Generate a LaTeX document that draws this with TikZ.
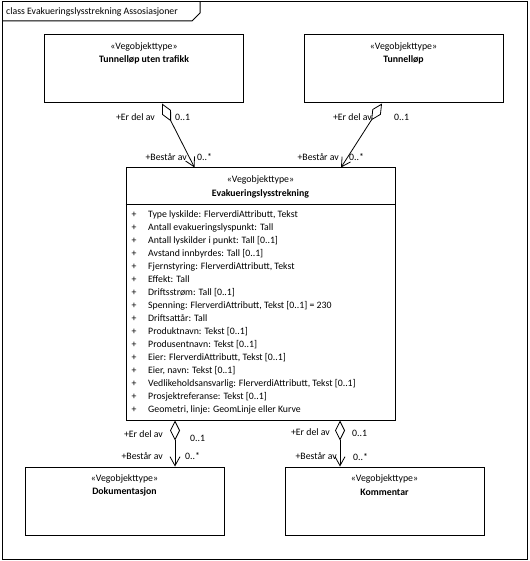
\documentclass[tikz,border=0pt]{standalone}
\usepackage{fontspec}
\setmainfont{Carlito}
\usetikzlibrary{arrows.meta}
\begin{document}
\begin{tikzpicture}[x=1pt,y=-1pt,
  txt/.style={font=\fontsize{9.8}{13}\selectfont, inner sep=0pt},
  cls/.style={draw, line width=1pt, fill=white, minimum width=199pt, minimum height=68pt, inner sep=0pt},
  stereo/.style={txt},
  cname/.style={txt, font=\fontsize{9.8}{13}\selectfont\bfseries},
  assoc/.style={line width=0.8pt, {Diamond[open,length=20pt,width=10pt]}-{Straight Barb[length=9pt,width=10pt]}},
  lbl/.style={txt}
]
\useasboundingbox (0,0) rectangle (529,561);
\fill[white] (0,0) rectangle (529,561);
% frame
\draw[line width=1pt] (2,2) rectangle (527,559);
\draw[line width=1pt] (2,21) -- (192,21) -- (200,13) -- (200,2);
\node[txt, anchor=west] (title) at (6,12) {class Evakueringslysstrekning Assosiasjoner};

% type boxes
\node[cls] (tl) at (144,69) {};
\node[stereo] (tls) at (144,47) {«Vegobjekttype»};
\node[cname] (tln) at (144,60) {Tunnelløp uten trafikk};

\node[cls] (tr) at (403.5,69) {};
\node[stereo] (trs) at (403.5,47) {«Vegobjekttype»};
\node[cname] (trn) at (403.5,60) {Tunnelløp};

\node[cls] (bl) at (124.5,501) {};
\node[stereo] (bls) at (124.5,479) {«Vegobjekttype»};
\node[cname] (bln) at (124.5,492) {Dokumentasjon};

\node[cls] (br) at (384.5,501) {};
\node[stereo] (brs) at (384.5,479) {«Vegobjekttype»};
\node[cname] (brn) at (384.5,492) {Kommentar};

% central class
\node[cls, minimum width=269pt, minimum height=252pt] (ev) at (260.5,294) {};
\node[stereo] (evs) at (260.5,180) {«Vegobjekttype»};
\node[cname] (evn) at (260.5,193.5) {Evakueringslysstrekning};
\draw[line width=1pt] (ev.west |- 0,204) coordinate (sepl) -- (ev.east |- 0,204) coordinate (sepr);

\foreach \t [count=\i] in {
 {Type lyskilde: FlerverdiAttributt, Tekst},
 {Antall evakueringslyspunkt: Tall},
 {Antall lyskilder i punkt: Tall [0..1]},
 {Avstand innbyrdes: Tall [0..1]},
 {Fjernstyring: FlerverdiAttributt, Tekst},
 {Effekt: Tall},
 {Driftsstrøm: Tall [0..1]},
 {Spenning: FlerverdiAttributt, Tekst [0..1] = 230},
 {Driftsattår: Tall},
 {Produktnavn: Tekst [0..1]},
 {Produsentnavn: Tekst [0..1]},
 {Eier: FlerverdiAttributt, Tekst [0..1]},
 {Eier, navn: Tekst [0..1]},
 {Vedlikeholdsansvarlig: FlerverdiAttributt, Tekst [0..1]},
 {Prosjektreferanse: Tekst [0..1]},
 {Geometri, linje: GeomLinje eller Kurve}}{
  \node[txt, anchor=base west] (a\i) at (148,{217.3+13*(\i-1)}) {\t};
  \node[txt, anchor=base] (p\i) at (134,{217.3+13*(\i-1)}) {+};
}

% connectors
\coordinate (s1) at ([xshift=18pt]tl.south);
\coordinate (e1) at ([xshift=-66pt]ev.north);
\draw[assoc] (s1) -- (e1);
\coordinate (s2) at ([xshift=-21.5pt]tr.south);
\coordinate (e2) at ([xshift=80.5pt]ev.north);
\draw[assoc] (s2) -- (e2);
\coordinate (s3) at ([xshift=-85.5pt]ev.south);
\draw[assoc] (s3) -- (s3 |- bl.north);
\coordinate (s4) at ([xshift=79.5pt]ev.south);
\draw[assoc] (s4) -- (s4 |- br.north);

% labels
\node[lbl, anchor=east] (l1) at (155,117) {+Er del av};
\node[lbl, anchor=west] (l2) at (175,117) {0..1};
\node[lbl, anchor=east] (l3) at (187,157) {+Består av};
\node[lbl, anchor=west] (l4) at (197,157) {0..*};

\node[lbl, anchor=east] (l5) at (372,117) {+Er del av};
\node[lbl, anchor=west] (l6) at (394,117) {0..1};
\node[lbl, anchor=east] (l7) at (339,157) {+Består av};
\node[lbl, anchor=west] (l8) at (349,157) {0..*};

\node[lbl, anchor=east] (l9) at (163,434) {+Er del av};
\node[lbl, anchor=west] (l10) at (190,438) {0..1};
\node[lbl, anchor=east] (l11) at (163,456) {+Består av};
\node[lbl, anchor=west] (l12) at (185,456) {0..*};

\node[lbl, anchor=east] (l13) at (330,432) {+Er del av};
\node[lbl, anchor=west] (l14) at (352,433) {0..1};
\node[lbl, anchor=east] (l15) at (337,456) {+Består av};
\node[lbl, anchor=west] (l16) at (353,457) {0..*};
\end{tikzpicture}
\end{document}
